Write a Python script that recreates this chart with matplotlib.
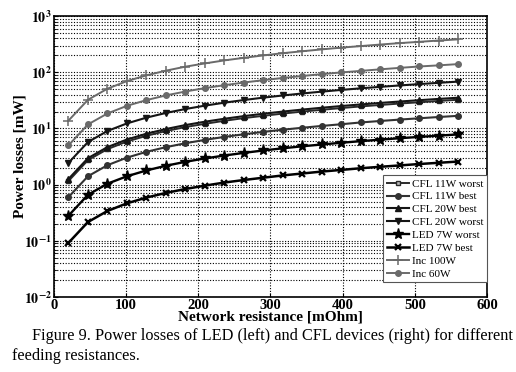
import matplotlib
matplotlib.use("Agg")
import matplotlib.pyplot as plt

plt.rcParams['font.family'] = ['Liberation Serif', 'DejaVu Serif']
plt.rcParams['mathtext.fontset'] = 'stix'

resistance = [20, 47, 74, 101, 128, 155, 182, 209, 236, 263, 290, 317, 344, 371, 398, 425, 452, 479, 506, 533, 560]

cfl11_worst = [1.16, 2.73, 4.29, 5.86, 7.42, 8.99, 10.6, 12.1, 13.7, 15.3, 16.8, 18.4, 20.0, 21.5, 23.1, 24.7, 26.2, 27.8, 29.3, 30.9, 32.5]
cfl11_best = [0.60, 1.41, 2.22, 3.03, 3.84, 4.65, 5.46, 6.27, 7.08, 7.89, 8.70, 9.51, 10.3, 11.1, 11.9, 12.8, 13.6, 14.4, 15.2, 16.0, 16.8]
cfl20_best = [1.26, 2.96, 4.66, 6.36, 8.06, 9.77, 11.5, 13.2, 14.9, 16.6, 18.3, 20.0, 21.7, 23.4, 25.1, 26.8, 28.5, 30.2, 31.9, 33.6, 35.3]
cfl20_worst = [2.44, 5.73, 9.03, 12.3, 15.6, 18.9, 22.2, 25.5, 28.8, 32.1, 35.4, 38.7, 42.0, 45.3, 48.6, 51.9, 55.1, 58.4, 61.7, 65.0, 68.3]
led7_worst = [0.28, 0.66, 1.04, 1.41, 1.79, 2.17, 2.55, 2.93, 3.30, 3.68, 4.06, 4.44, 4.82, 5.19, 5.57, 5.95, 6.33, 6.71, 7.08, 7.46, 7.84]
led7_best = [0.092, 0.216, 0.340, 0.465, 0.589, 0.713, 0.837, 0.961, 1.09, 1.21, 1.33, 1.46, 1.58, 1.71, 1.83, 1.96, 2.08, 2.20, 2.33, 2.45, 2.58]
inc100 = [13.8, 32.4, 51.1, 69.7, 88.3, 107, 126, 144, 163, 181, 200, 219, 237, 256, 275, 293, 312, 331, 349, 368, 386]
inc60 = [5.0, 11.8, 18.5, 25.3, 32.0, 38.8, 45.5, 52.3, 59.0, 65.8, 72.5, 79.3, 86.0, 92.8, 99.5, 106, 113, 120, 127, 133, 140]

labels = ['CFL 11W worst', 'CFL 11W best', 'CFL 20W best', 'CFL 20W worst',
          'LED 7W worst', 'LED 7W best', 'Inc 100W', 'Inc 60W']
xticks = [0, 100, 200, 300, 400, 500, 600]
yticks = [1e-2, 1e-1, 1e0, 1e1, 1e2, 1e3]
ytick_labels = [r'$\mathbf{10^{-2}}$', r'$\mathbf{10^{-1}}$', r'$\mathbf{10^{0}}$',
                r'$\mathbf{10^{1}}$', r'$\mathbf{10^{2}}$', r'$\mathbf{10^{3}}$']

fig = plt.figure(figsize=(5.16, 3.72), dpi=100)
ax = fig.add_axes([0.1047, 0.2016, 0.839, 0.755])

styles = [
    (cfl11_worst, dict(color='#2a2a2a', marker='s', ms=3.5, mfc='#bbbbbb', lw=1.4)),
    (cfl11_best, dict(color='#333333', marker='o', ms=4, lw=1.5)),
    (cfl20_best, dict(color='#151515', marker='^', ms=5, lw=1.5)),
    (cfl20_worst, dict(color='#151515', marker='v', ms=5, lw=1.5)),
    (led7_worst, dict(color='#000000', marker='*', ms=8, lw=1.7)),
    (led7_best, dict(color='#000000', marker='x', ms=5, mew=1.6, lw=1.8)),
    (inc100, dict(color='#6a6a6a', marker='+', ms=7, mew=1.1, lw=1.4)),
    (inc60, dict(color='#6a6a6a', marker='o', ms=4, lw=1.4)),
]
for (vals, st), lab in zip(styles, labels):
    ax.plot(resistance, vals, label=lab, **st)

ax.set_yscale('log')
ax.set_xlim(0, 600)
ax.set_ylim(1e-2, 1e3)
ax.set_xticks(xticks)
ax.set_xticklabels([str(t) for t in xticks], fontweight='bold', fontsize=10.5)
ax.set_yticks(yticks)
ax.set_yticklabels(ytick_labels, fontsize=10)
ax.tick_params(which='both', direction='in', length=3, pad=1.5)
ax.tick_params(axis='y', which='minor', length=2)

ax.grid(True, which='major', axis='both', color='black', linestyle=(0, (1, 1.5)), linewidth=0.8)
ax.grid(True, which='minor', axis='y', color='black', linestyle=(0, (1, 1.5)), linewidth=0.8)
for sp in ax.spines.values():
    sp.set_linewidth(1.2)

ax.set_xlabel('Network resistance [mOhm]', fontweight='bold', fontsize=11, labelpad=-1)
ax.set_ylabel('Power losses [mW]', fontweight='bold', fontsize=11)
ax.yaxis.set_label_coords(-0.063, 0.5)

leg = ax.legend(loc='lower right', bbox_to_anchor=(1.0, 0.053), fontsize=8, frameon=True,
                fancybox=False, edgecolor='#555555', framealpha=1, borderaxespad=0,
                handlelength=2.0, handletextpad=0.3, labelspacing=0.28, borderpad=0.3)
leg.get_frame().set_linewidth(0.8)

fig.text(32/516, 1 - 340/372, 'Figure 9. Power losses of LED (left) and CFL devices (right) for different',
         fontsize=11.7, ha='left', va='baseline')
fig.text(12/516, 1 - 360/372, 'feeding resistances.', fontsize=11.7, ha='left', va='baseline')

fig.savefig('out.png', dpi=100)
